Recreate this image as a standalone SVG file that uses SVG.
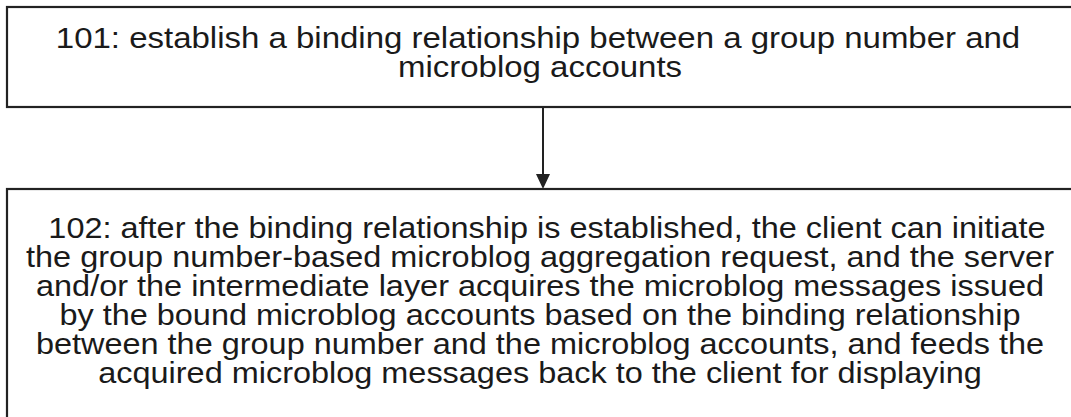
<svg xmlns="http://www.w3.org/2000/svg" width="1071" height="417" viewBox="0 0 1071 417">
<style>
.box{fill:#fff;stroke:#222;stroke-width:2.2}
.t{font-family:"Liberation Sans",Arial,sans-serif;font-size:29.5px;fill:#1a1a1a;text-anchor:middle}
.t1{font-size:30px}
.c{stroke:#222;stroke-width:2;fill:none}
</style>
<rect width="1071" height="417" fill="#fff"/>
<g id="n101">
<rect class="box" x="7" y="7" width="1080" height="100"/>
<text class="t t1" transform="translate(538 48) scale(1.1 1)">101: establish a binding relationship between a group number and</text>
<text class="t t1" transform="translate(540 77) scale(1.1 1)">microblog accounts</text>
</g>
<g id="n102">
<rect class="box" x="7" y="189" width="1080" height="250"/>
<text class="t" transform="translate(547 238) scale(1.1 1)">102: after the binding relationship is established, the client can initiate</text>
<text class="t" transform="translate(540 267) scale(1.1 1)">the group number-based microblog aggregation request, and the server</text>
<text class="t" transform="translate(540 296) scale(1.1 1)">and/or the intermediate layer acquires the microblog messages issued</text>
<text class="t" transform="translate(540 325) scale(1.1 1)">by the bound microblog accounts based on the binding relationship</text>
<text class="t" transform="translate(540 354) scale(1.1 1)">between the group number and the microblog accounts, and feeds the</text>
<text class="t" transform="translate(540 383) scale(1.1 1)">acquired microblog messages back to the client for displaying</text>
</g>
<g id="connectors">
<line class="c" x1="543" y1="107" x2="543" y2="176"/>
<path d="M536,174 L550,174 L543,189 Z" fill="#222"/>
</g>
</svg>
